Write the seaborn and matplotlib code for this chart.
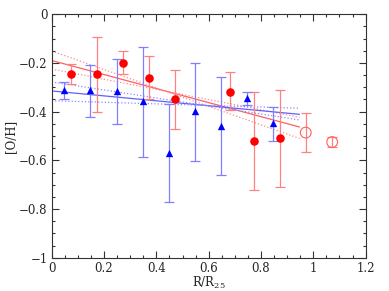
import matplotlib
matplotlib.use("Agg")
import matplotlib.pyplot as plt
import seaborn as sns
import pandas as pd
import numpy as np
from matplotlib.ticker import MultipleLocator, FixedLocator, FuncFormatter

sns.set_theme(style="ticks")
plt.rcParams['font.family'] = ['DejaVu Serif']
plt.rcParams['mathtext.fontset'] = 'dejavuserif'

# Red filled circles
red_x = [0.072, 0.173, 0.273, 0.372, 0.471, 0.682, 0.772, 0.871]
red_y = [-0.245, -0.245, -0.199, -0.262, -0.349, -0.318, -0.520, -0.510]
red_top = [-0.205, -0.093, -0.152, -0.171, -0.228, -0.238, -0.320, -0.311]
red_bot = [-0.286, -0.400, -0.247, -0.349, -0.473, -0.393, -0.722, -0.711]

# Red open circles
open_x = [0.971, 1.072]
open_y = [-0.486, -0.525]
open_top = [-0.407, -0.504]
open_bot = [-0.567, -0.545]

# Blue triangles
blue_x = [0.047, 0.147, 0.248, 0.348, 0.448, 0.546, 0.648, 0.748, 0.847]
blue_y = [-0.311, -0.311, -0.317, -0.356, -0.568, -0.399, -0.459, -0.345, -0.448]
blue_top = [-0.278, -0.208, -0.185, -0.133, -0.369, -0.199, -0.259, -0.320, -0.380]
blue_bot = [-0.349, -0.421, -0.452, -0.588, -0.770, -0.601, -0.660, -0.374, -0.520]

# Fit lines (x range, values at ends)
fit_x = [0.0, 0.947]
red_fit = [-0.190, -0.463]
red_fit_hi = [-0.151, -0.510]
red_fit_lo = [-0.225, -0.423]
blue_fit = [-0.315, -0.411]
blue_fit_hi = [-0.278, -0.434]
blue_fit_lo = [-0.355, -0.386]

x_ticks = [0, 0.2, 0.4, 0.6, 0.8, 1.0, 1.2]
y_ticks = [-1, -0.8, -0.6, -0.4, -0.2, 0]

fig = plt.figure(figsize=(3.89, 2.91), dpi=100)
ax = fig.add_axes([0.133, 0.1144, 0.807, 0.8366])

def errs(y, top, bot):
    y = np.array(y); return [y - np.array(bot), np.array(top) - y]

for vals, ls, col, lw in [(red_fit, '-', '#ff6060', 0.9), (red_fit_hi, ':', '#ff8a8a', 0.9),
                          (red_fit_lo, ':', '#ff8a8a', 0.9), (blue_fit, '-', '#6060ff', 0.9),
                          (blue_fit_hi, ':', '#8a8aff', 0.9), (blue_fit_lo, ':', '#8a8aff', 0.9)]:
    d = pd.DataFrame({'x': fit_x, 'y': vals})
    sns.lineplot(data=d, x='x', y='y', ax=ax, color=col, linestyle=ls, linewidth=lw)

ax.errorbar(red_x, red_y, yerr=errs(red_y, red_top, red_bot), fmt='none',
            ecolor='#ff8080', elinewidth=0.9, capsize=3.6, capthick=0.9)
ax.errorbar(open_x, open_y, yerr=errs(open_y, open_top, open_bot), fmt='none',
            ecolor='#ff8080', elinewidth=0.9, capsize=3.6, capthick=0.9)
ax.errorbar(blue_x, blue_y, yerr=errs(blue_y, blue_top, blue_bot), fmt='none',
            ecolor='#8080ff', elinewidth=0.9, capsize=3.6, capthick=0.9)

sns.scatterplot(x=red_x, y=red_y, ax=ax, color='#ff0000', marker='o', s=38,
                edgecolor='#ff0000', linewidth=0, zorder=5)
sns.scatterplot(x=blue_x, y=blue_y, ax=ax, color='#0000ff', marker='^', s=28,
                edgecolor='#0000ff', linewidth=0, zorder=5)
ax.scatter(open_x, open_y, s=60, facecolors='none', edgecolors='#ff6060',
           linewidths=0.8, zorder=5)

ax.set_xlim(0, 1.2)
ax.set_ylim(-1, 0)
ax.xaxis.set_major_locator(FixedLocator(x_ticks))
ax.xaxis.set_minor_locator(MultipleLocator(0.05))
ax.yaxis.set_major_locator(FixedLocator(y_ticks))
ax.yaxis.set_minor_locator(MultipleLocator(0.05))
ax.xaxis.set_major_formatter(FuncFormatter(lambda v, p: f'{v:g}'))
ax.yaxis.set_major_formatter(FuncFormatter(lambda v, p: f'{v:g}'.replace('-', '\u2212')))
ax.tick_params(which='both', direction='in', top=True, right=True, labelsize=8.5,
               color='#333333', width=0.8, pad=3)
ax.tick_params(which='major', length=5)
ax.tick_params(which='minor', length=2.5)
for s in ax.spines.values():
    s.set_color('#333333'); s.set_linewidth(0.8)
ax.set_xlabel('R/R$_{25}$', fontsize=8.5, labelpad=0)
ax.set_ylabel('[O/H]', fontsize=8.5, labelpad=1)
if ax.get_legend():
    ax.get_legend().remove()

fig.savefig('out.png', dpi=100)
